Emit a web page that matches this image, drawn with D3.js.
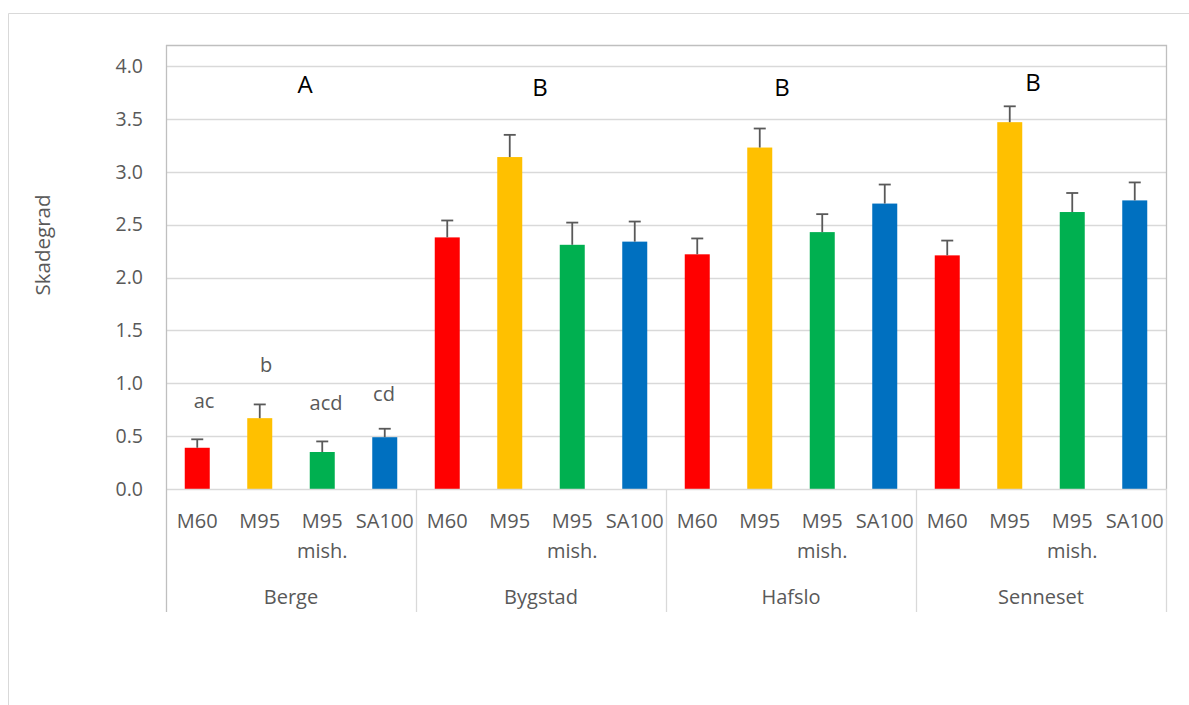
<!DOCTYPE html>
<html><head><meta charset="utf-8">
<script src="https://cdn.jsdelivr.net/npm/d3@7"></script>
<style>
body{margin:0;background:#fff;}
svg{display:block;font-family:"Open Sans",sans-serif;}
</style></head>
<body><svg id="c" width="1189" height="705"></svg>
<script>
const groups = ["Berge","Bygstad","Hafslo","Senneset"];
const treatments = ["M60","M95","M95 mish.","SA100"];
const colors = ["#FF0000","#FFC000","#00B050","#0070C0"];
const values = [
  [0.39, 0.67, 0.35, 0.49],
  [2.38, 3.14, 2.31, 2.34],
  [2.22, 3.23, 2.43, 2.70],
  [2.21, 3.47, 2.62, 2.73]
];
const errTops = [
  [0.47, 0.80, 0.45, 0.57],
  [2.54, 3.35, 2.52, 2.53],
  [2.37, 3.41, 2.60, 2.88],
  [2.35, 3.62, 2.80, 2.90]
];
const groupLetters = ["A","B","B","B"];
const bergeLetters = ["ac","b","acd","cd"];
const yTicks = [0,0.5,1,1.5,2,2.5,3,3.5,4];
const yLabel = "Skadegrad";

const svg = d3.select("#c");
const L=166, R=1166, T=45, B=489;
const y = d3.scaleLinear().domain([0,4.2]).range([B,T]);
const gx = d3.scaleBand().domain(groups).range([L,R]);
const tx = d3.scaleBand().domain(treatments).range([0,gx.bandwidth()]);
const barW = tx.bandwidth()*0.4;

svg.append("path").attr("d","M8.5,705 L8.5,13.5 L1189,13.5").attr("fill","none").attr("stroke","#d9d9d9").attr("stroke-width",1);

svg.append("g").selectAll("line").data(yTicks.filter(d=>d>0)).join("line")
  .attr("x1",L).attr("x2",R).attr("y1",d=>Math.round(y(d))+0.5).attr("y2",d=>Math.round(y(d))+0.5)
  .attr("stroke","#d9d9d9").attr("stroke-width",1.3);

svg.append("path").attr("d",`M${L},${T+0.5} L${R+0.5},${T+0.5} L${R+0.5},${B}`).attr("fill","none").attr("stroke","#bfbfbf").attr("stroke-width",1.3);

const yAxis = svg.append("g").attr("transform",`translate(${L},0)`)
  .call(d3.axisLeft(y).tickValues(yTicks).tickFormat(d3.format(".1f")).tickSize(0).tickPadding(23));
yAxis.select(".domain").remove();
yAxis.selectAll("text").attr("fill","#595959").style("font-size","19.5px").style("font-family","'Open Sans',sans-serif");

groups.forEach((g,gi)=>{
  const gg = svg.append("g").attr("transform",`translate(${gx(g)},0)`);
  treatments.forEach((t,ti)=>{
    const cx = tx(t)+tx.bandwidth()/2;
    gg.append("rect").attr("x",cx-barW/2).attr("width",barW)
      .attr("y",y(values[gi][ti])).attr("height",B-y(values[gi][ti])).attr("fill",colors[ti]);
    gg.append("line").attr("x1",cx).attr("x2",cx).attr("y1",y(values[gi][ti])).attr("y2",y(errTops[gi][ti]))
      .attr("stroke","#595959").attr("stroke-width",1.8);
    gg.append("line").attr("x1",cx-6).attr("x2",cx+6).attr("y1",y(errTops[gi][ti])).attr("y2",y(errTops[gi][ti]))
      .attr("stroke","#595959").attr("stroke-width",1.8);
    const lines = t.split(" ");
    lines.forEach((ln,li)=>{
      gg.append("text").attr("x",cx).attr("y",528+li*30).attr("text-anchor","middle")
        .attr("fill","#595959").style("font-size","20px").text(ln);
    });
  });
  gg.append("text").attr("x",gx.bandwidth()/2).attr("y",604).attr("text-anchor","middle")
    .attr("fill","#595959").style("font-size","20px").text(g);
});

svg.append("line").attr("x1",L).attr("x2",R+1).attr("y1",B+0.5).attr("y2",B+0.5).attr("stroke","#d9d9d9").attr("stroke-width",1.3);
svg.append("g").selectAll("line").data(groups.map(g=>gx(g)).concat([R])).join("line")
  .attr("x1",d=>d+0.5).attr("x2",d=>d+0.5).attr("y1",d=>d===L?T:B).attr("y2",612)
  .attr("stroke",(d)=>d===L?"#bfbfbf":"#d9d9d9").attr("stroke-width",1.3);

const letterPos = [[305,93],[540,96],[782,96],[1033,91]];
svg.append("g").selectAll("text").data(groupLetters).join("text")
  .attr("x",(d,i)=>letterPos[i][0]).attr("y",(d,i)=>letterPos[i][1]).attr("text-anchor","middle")
  .attr("fill","#000").style("font-size","24px").text(d=>d);

const bPos = [[204,408],[266,372],[326,410],[384,401]];
svg.append("g").selectAll("text").data(bergeLetters).join("text")
  .attr("x",(d,i)=>bPos[i][0]).attr("y",(d,i)=>bPos[i][1]).attr("text-anchor","middle")
  .attr("fill","#595959").style("font-size","20px").text(d=>d);

svg.append("text").attr("transform","translate(50,245) rotate(-90)").attr("text-anchor","middle")
  .attr("fill","#595959").style("font-size","20.5px").text(yLabel);
</script></body></html>
